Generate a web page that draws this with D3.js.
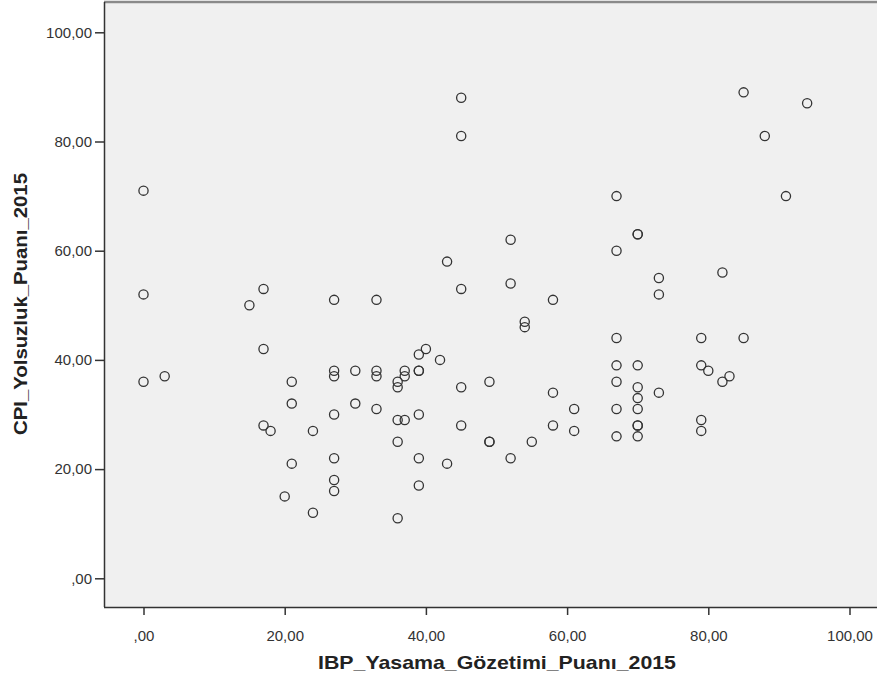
<!DOCTYPE html>
<html lang="tr">
<head>
<meta charset="UTF-8">
<script src="https://d3js.org/d3.v7.min.js"></script>
<style>
  body { margin: 0; background: #fff; }
  svg text { font-family: "Liberation Sans", Arial, sans-serif; fill: #222; }
  .tick text { font-size: 15px; fill: #333; }
  .title { font-size: 19px; font-weight: bold; }
</style>
</head>
<body>
<div id="chart"></div>
<script>
// IBP legislative oversight score (x) vs CPI corruption score (y)
const ibp = [0, 0, 0, 3, 15, 17, 17, 17, 18, 20, 21, 21, 21, 24, 24,
  27, 27, 27, 27, 27, 27, 27, 30, 30, 33, 33, 33, 33,
  36, 36, 36, 36, 36, 37, 37, 37, 39, 39, 39, 39, 39, 39, 40, 42, 43, 43,
  45, 45, 45, 45, 45, 49, 49, 49, 52, 52, 52, 54, 54, 55, 58, 58, 58, 61, 61,
  67, 67, 67, 67, 67, 67, 67, 70, 70, 70, 70, 70, 70, 70, 70, 70,
  73, 73, 73, 79, 79, 79, 79, 80, 82, 82, 83, 85, 85, 88, 91, 94];
const cpi = [71, 52, 36, 37, 50, 53, 42, 28, 27, 15, 36, 32, 21, 27, 12,
  51, 38, 37, 30, 22, 18, 16, 38, 32, 51, 38, 37, 31,
  36, 35, 29, 25, 11, 38, 37, 29, 41, 38, 38, 30, 22, 17, 42, 40, 58, 21,
  88, 81, 53, 35, 28, 36, 25, 25, 62, 54, 22, 47, 46, 25, 51, 34, 28, 31, 27,
  70, 60, 44, 39, 36, 31, 26, 63, 63, 39, 35, 33, 31, 28, 28, 26,
  55, 52, 34, 44, 39, 29, 27, 38, 56, 36, 37, 89, 44, 81, 70, 87];
const tickValues = [0, 20, 40, 60, 80, 100];
const xLabel = "IBP_Yasama_Gözetimi_Puanı_2015";
const yLabel = "CPI_Yolsuzluk_Puanı_2015";

const W = 877, H = 679;
const plot = { left: 104, right: 877, top: 2, bottom: 607 };

const fmt = v => v === 0 ? ",00" : d3.format(".2f")(v).replace(".", ",");

const x = d3.scaleLinear().domain([0, 100]).range([143.5, 849.5]);
const y = d3.scaleLinear().domain([0, 100]).range([578.3, 32.3]);

const svg = d3.select("#chart").append("svg")
  .attr("width", W).attr("height", H);

svg.append("rect")
  .attr("x", plot.left).attr("y", plot.top)
  .attr("width", plot.right - plot.left).attr("height", plot.bottom - plot.top)
  .attr("fill", "#f0f0f0");

// top border
svg.append("line")
  .attr("x1", plot.left).attr("x2", plot.right)
  .attr("y1", plot.top).attr("y2", plot.top)
  .attr("stroke", "#8a8a8a").attr("stroke-width", 2.5);

const xAxis = svg.append("g")
  .attr("transform", "translate(0," + plot.bottom + ")")
  .call(d3.axisBottom(x).tickValues(tickValues).tickFormat(fmt).tickSize(8).tickPadding(15).tickSizeOuter(0));
xAxis.select(".domain").attr("d", "M" + plot.left + ",0.5H" + plot.right).attr("stroke", "#333").attr("stroke-width", 1.5);
xAxis.selectAll(".tick line").attr("stroke", "#333").attr("stroke-width", 1.5);

const yAxis = svg.append("g")
  .attr("transform", "translate(" + plot.left + ",0)")
  .call(d3.axisLeft(y).tickValues(tickValues).tickFormat(fmt).tickSize(9).tickPadding(3).tickSizeOuter(0));
yAxis.select(".domain").attr("d", "M0.5," + plot.top + "V" + plot.bottom).attr("stroke", "#333").attr("stroke-width", 1.5);
yAxis.selectAll(".tick line").attr("stroke", "#333").attr("stroke-width", 1.5);

svg.selectAll("circle.pt")
  .data(ibp.map((v, i) => [v, cpi[i]]))
  .enter().append("circle")
  .attr("class", "pt")
  .attr("cx", d => x(d[0]))
  .attr("cy", d => y(d[1]))
  .attr("r", 4.6)
  .attr("fill", "none")
  .attr("stroke", "#333")
  .attr("stroke-width", 1.3);

svg.append("text")
  .attr("class", "title")
  .attr("x", 497).attr("y", 669)
  .attr("text-anchor", "middle")
  .attr("textLength", 358).attr("lengthAdjust", "spacingAndGlyphs")
  .text(xLabel);

svg.append("text")
  .attr("class", "title")
  .attr("transform", "translate(27,304) rotate(-90)")
  .attr("text-anchor", "middle")
  .attr("textLength", 262).attr("lengthAdjust", "spacingAndGlyphs")
  .text(yLabel);
</script>
</body>
</html>
